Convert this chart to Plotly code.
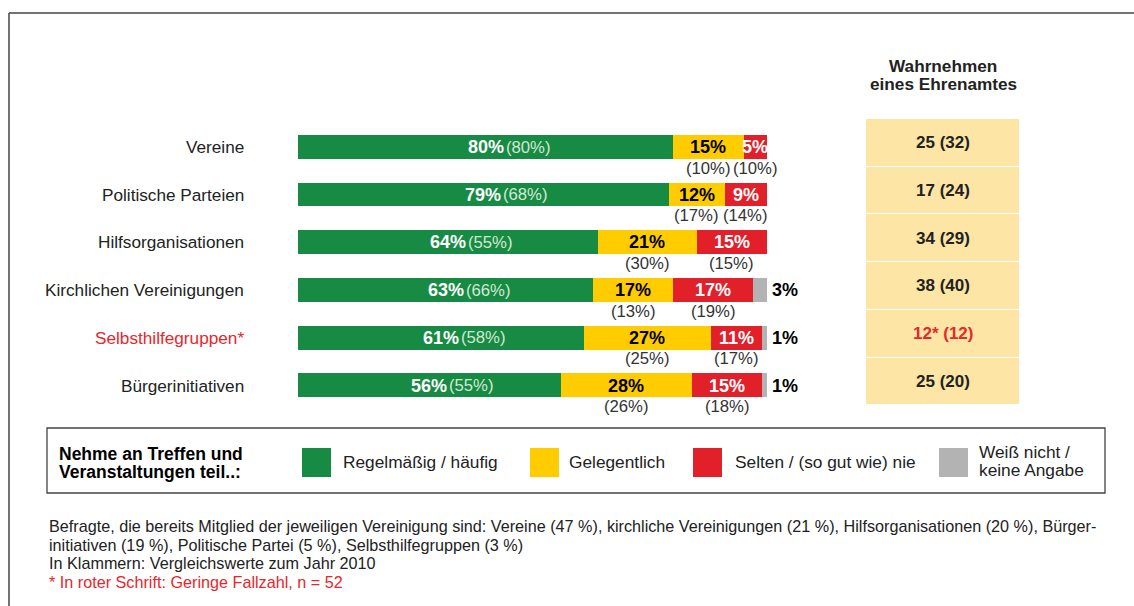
import plotly.graph_objects as go

# ---------------- data ----------------
categories = ["Vereine", "Politische Parteien", "Hilfsorganisationen",
              "Kirchlichen Vereinigungen", "Selbsthilfegruppen*", "Bürgerinitiativen"]
regelmaessig = [80, 79, 64, 63, 61, 56]
gelegentlich = [15, 12, 21, 17, 27, 28]
selten = [5, 9, 15, 17, 11, 15]
weiss_nicht = [0, 0, 0, 3, 1, 1]
prev_regelmaessig = [80, 68, 55, 66, 58, 55]
prev_gelegentlich = [10, 17, 30, 13, 25, 26]
prev_selten = [10, 14, 15, 19, 17, 18]
ehrenamt = ["25", "17", "34", "38", "12*", "25"]
prev_ehrenamt = [32, 24, 29, 40, 12, 20]
small_sample = [False, False, False, False, True, False]

legend_labels = ["Regelmäßig / häufig", "Gelegentlich",
                 "Selten / (so gut wie) nie", "Weiß nicht /<br>keine Angabe"]

# ---------------- style ----------------
W, H = 1134, 606
FONT = "Liberation Sans, Arial, sans-serif"
GREEN = "#178B44"
YELLOW = "#FFCC00"
RED = "#E1202A"
GRAY = "#B3B3B3"
TABLE = "#FDE5A6"
TXTRED = "#E8262B"
DARK = "#222222"

def px_x(p):
    return p / W

def px_y(p):
    return 1 - p / H

fig = go.Figure()

series = [(regelmaessig, GREEN, legend_labels[0]),
          (gelegentlich, YELLOW, legend_labels[1]),
          (selten, RED, legend_labels[2]),
          (weiss_nicht, GRAY, legend_labels[3])]
for vals, col, name in series:
    fig.add_trace(go.Bar(
        y=categories, x=vals, orientation="h", name=name,
        marker=dict(color=col, line=dict(width=0)),
        width=0.5, xaxis="x", yaxis="y", showlegend=False, hoverinfo="skip"))

# table on the right
fig.add_trace(go.Bar(
    y=categories, x=[1] * len(categories), orientation="h",
    marker=dict(color=TABLE, line=dict(color="white", width=1.5)),
    width=1, xaxis="x2", yaxis="y2", showlegend=False, hoverinfo="skip"))

ann = []
shapes = []

VAL = 18
PREV = 16.7
for i, cat in enumerate(categories):
    g, y_, r, k = regelmaessig[i], gelegentlich[i], selten[i], weiss_nicht[i]
    # green
    ann.append(dict(x=g / 2, y=cat, xref="x", yref="y", text=f"<b>{g}%</b>",
                    showarrow=False, font=dict(color="white", size=VAL, family=FONT),
                    xanchor="center", yanchor="middle"))
    ann.append(dict(x=g / 2, y=cat, xref="x", yref="y", text=f"({prev_regelmaessig[i]}%)",
                    showarrow=False, font=dict(color="#D3E8D3", size=PREV, family=FONT),
                    xanchor="left", yanchor="middle", xshift=18))
    # yellow
    ann.append(dict(x=g + y_ / 2, y=cat, xref="x", yref="y", text=f"<b>{y_}%</b>",
                    showarrow=False, font=dict(color="black", size=VAL, family=FONT),
                    xanchor="center", yanchor="middle"))
    ann.append(dict(x=g + y_ / 2, y=cat, xref="x", yref="y", text=f"({prev_gelegentlich[i]}%)",
                    showarrow=False, font=dict(color="#333333", size=PREV, family=FONT),
                    xanchor="center", yanchor="middle", yshift=-21))
    # red
    ann.append(dict(x=g + y_ + r / 2, y=cat, xref="x", yref="y", text=f"<b>{r}%</b>",
                    showarrow=False, font=dict(color="white", size=VAL, family=FONT),
                    xanchor="center", yanchor="middle"))
    ann.append(dict(x=g + y_ + r / 2, y=cat, xref="x", yref="y", text=f"({prev_selten[i]}%)",
                    showarrow=False, font=dict(color="#333333", size=PREV, family=FONT),
                    xanchor="center", yanchor="middle", yshift=-21))
    # gray
    if k > 0:
        ann.append(dict(x=g + y_ + r + k, y=cat, xref="x", yref="y", text=f"<b>{k}%</b>",
                        showarrow=False, font=dict(color="black", size=VAL, family=FONT),
                        xanchor="left", yanchor="middle", xshift=3))
    # category label
    ann.append(dict(x=px_x(246), y=cat, xref="paper", yref="y", text=cat,
                    showarrow=False,
                    font=dict(color=TXTRED if small_sample[i] else DARK, size=17.2, family=FONT),
                    xanchor="right", yanchor="middle"))
    # table value
    ann.append(dict(x=0.5, y=cat, xref="x2", yref="y2",
                    text=f"<b>{ehrenamt[i]} ({prev_ehrenamt[i]})</b>",
                    showarrow=False,
                    font=dict(color=TXTRED if small_sample[i] else DARK, size=17, family=FONT),
                    xanchor="center", yanchor="middle"))

# header of table
for txt, yy in [("Wahrnehmen", 66), ("eines Ehrenamtes", 84)]:
    ann.append(dict(x=px_x(943), y=px_y(yy), xref="paper", yref="paper",
                    text=f"<b>{txt}</b>", showarrow=False,
                    font=dict(color=DARK, size=17.2, family=FONT),
                    xanchor="center", yanchor="middle"))

# legend box
shapes.append(dict(type="rect", xref="paper", yref="paper",
                   x0=px_x(47), x1=px_x(1105), y0=px_y(493), y1=px_y(428),
                   line=dict(color="#444444", width=1.3), fillcolor="rgba(0,0,0,0)"))
for txt, yy in [("Nehme an Treffen und", 454), ("Veranstaltungen teil..:", 472)]:
    ann.append(dict(x=px_x(57), y=px_y(yy), xref="paper", yref="paper",
                    text=f"<b>{txt}</b>", showarrow=False,
                    font=dict(color="black", size=17.5, family=FONT),
                    xanchor="left", yanchor="middle"))
legend_pos = [(302, 341), (530, 567), (693, 733), (939, 977)]
LEG = 17.3
for (sx, tx), (_, col, name) in zip(legend_pos, series):
    shapes.append(dict(type="rect", xref="paper", yref="paper",
                       x0=px_x(sx), x1=px_x(sx + 29), y0=px_y(477), y1=px_y(448),
                       line=dict(width=0), fillcolor=col))
    parts = name.split("<br>")
    if len(parts) == 1:
        ann.append(dict(x=px_x(tx), y=px_y(462), xref="paper", yref="paper",
                        text=name, showarrow=False,
                        font=dict(color=DARK, size=LEG, family=FONT),
                        xanchor="left", yanchor="middle"))
    else:
        for p, yy in zip(parts, [452, 470]):
            ann.append(dict(x=px_x(tx), y=px_y(yy), xref="paper", yref="paper",
                            text=p, showarrow=False,
                            font=dict(color=DARK, size=LEG, family=FONT),
                            xanchor="left", yanchor="middle"))

# footnotes
foot = [("Befragte, die bereits Mitglied der jeweiligen Vereinigung sind: Vereine (47 %), kirchliche Vereinigungen (21 %), Hilfsorganisationen (20 %), Bürger-", DARK),
        ("initiativen (19 %), Politische Partei (5 %), Selbsthilfegruppen (3 %)", DARK),
        ("In Klammern: Vergleichswerte zum Jahr 2010", DARK),
        ("* In roter Schrift: Geringe Fallzahl, n = 52", TXTRED)]
for j, (txt, col) in enumerate(foot):
    ann.append(dict(x=px_x(47), y=px_y(526 + j * 18.7), xref="paper", yref="paper",
                    text=txt, showarrow=False,
                    font=dict(color=col, size=16.2, family=FONT),
                    xanchor="left", yanchor="middle"))

# outer frame (top and left edges)
shapes.append(dict(type="line", xref="paper", yref="paper",
                   x0=px_x(9), x1=1, y0=px_y(13), y1=px_y(13),
                   line=dict(color="#444444", width=1.5)))
shapes.append(dict(type="line", xref="paper", yref="paper",
                   x0=px_x(9), x1=px_x(9), y0=0, y1=px_y(13),
                   line=dict(color="#444444", width=1.5)))

bar_top, row_h = 123.2, 47.7
tab_top = 119.0
n = len(categories)

fig.update_layout(
    width=W, height=H, margin=dict(l=0, r=0, t=0, b=0),
    paper_bgcolor="white", plot_bgcolor="rgba(0,0,0,0)",
    barmode="stack", bargap=0,
    xaxis=dict(domain=[px_x(298), px_x(767)], range=[0, 100], visible=False, fixedrange=True),
    yaxis=dict(domain=[px_y(bar_top + n * row_h), px_y(bar_top)],
               categoryorder="array", categoryarray=categories,
               range=[n - 0.5, -0.5], visible=False, fixedrange=True),
    xaxis2=dict(domain=[px_x(866), px_x(1020)], range=[0, 1], visible=False,
                anchor="y2", fixedrange=True),
    yaxis2=dict(domain=[px_y(tab_top + n * row_h), px_y(tab_top)],
                categoryorder="array", categoryarray=categories,
                range=[n - 0.5, -0.5], visible=False, anchor="x2", fixedrange=True),
    annotations=ann, shapes=shapes,
    font=dict(family=FONT),
)

fig.write_html("out.html", config={"displayModeBar": False},
               post_script="document.body.style.margin='0';document.body.style.overflow='hidden';")
